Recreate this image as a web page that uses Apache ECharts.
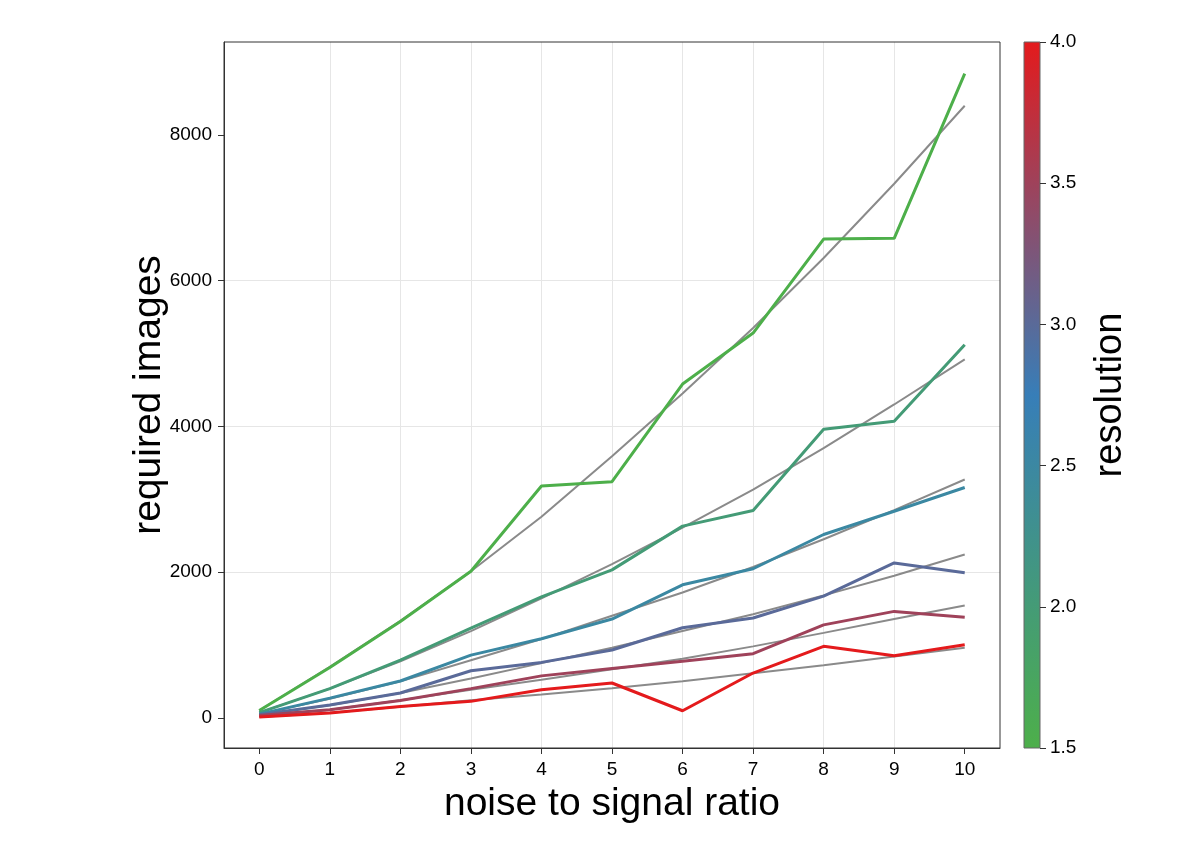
<!DOCTYPE html>
<html><head><meta charset="utf-8">
<script src="https://cdn.jsdelivr.net/npm/echarts@6/dist/echarts.min.js"></script>
<style>html,body{margin:0;padding:0;background:#fff}#c{width:1197px;height:855px}</style>
</head><body><div id="c"></div>
<script>
// ---- data ----
const noiseRatio = [0, 1, 2, 3, 4, 5, 6, 7, 8, 9, 10];
const resolutions = [1.5, 2.0, 2.5, 3.0, 3.5, 4.0];
const xTickValues = [0, 1, 2, 3, 4, 5, 6, 7, 8, 9, 10];
const yTickValues = [0, 2000, 4000, 6000, 8000];
const colorbarTicks = [1.5, 2.0, 2.5, 3.0, 3.5, 4.0];

// measured required images per resolution
const images_res15 = [100, 690, 1320, 2010, 3180, 3240, 4580, 5280, 6570, 6580, 8840];
const images_res20 = [70, 400, 790, 1230, 1660, 2030, 2630, 2845, 3960, 4070, 5120];
const images_res25 = [50, 270, 505, 860, 1085, 1355, 1825, 2045, 2515, 2835, 3160];
const images_res30 = [40, 175, 340, 645, 760, 930, 1235, 1370, 1670, 2125, 1990];
const images_res35 = [30, 110, 238, 400, 575, 675, 775, 880, 1275, 1460, 1380];
const images_res40 = [10, 64, 156, 225, 385, 477, 96, 614, 981, 852, 1003];

// fitted curves (gray)
const fit_res15 = [100, 700, 1330, 2010, 2760, 3590, 4450, 5350, 6310, 7330, 8400];
const fit_res20 = [70, 400, 775, 1190, 1640, 2110, 2610, 3130, 3700, 4300, 4920];
const fit_res25 = [50, 260, 500, 790, 1080, 1400, 1720, 2070, 2450, 2850, 3270];
const fit_res30 = [40, 170, 340, 540, 750, 960, 1190, 1420, 1680, 1950, 2240];
const fit_res35 = [30, 110, 240, 385, 522, 665, 810, 980, 1165, 1356, 1540];
const fit_res40 = [10, 70, 150, 240, 320, 405, 500, 610, 720, 840, 960];

const measured = [images_res15, images_res20, images_res25, images_res30, images_res35, images_res40];
const fits = [fit_res15, fit_res20, fit_res25, fit_res30, fit_res35, fit_res40];

// ---- colormap: green (1.5) -> blue (2.75) -> red (4.0) ----
const cmin = 1.5, cmax = 4.0;
const stops = [[0, [77, 175, 74]], [0.5, [55, 126, 184]], [1, [228, 26, 28]]];
function colorFor(v) {
  const t = Math.max(0, Math.min(1, (v - cmin) / (cmax - cmin)));
  let i = t <= 0.5 ? 0 : 1;
  const a = stops[i], b = stops[i + 1];
  const u = (t - a[0]) / (b[0] - a[0]);
  const c = a[1].map((x, k) => Math.round(x + u * (b[1][k] - x)));
  return 'rgb(' + c.join(',') + ')';
}

const FONT = 'Liberation Sans, Arial, Helvetica, sans-serif';
const pairs = arr => noiseRatio.map((x, i) => [x, arr[i]]);

const series = [];
fits.forEach((f, k) => series.push({
  type: 'line', name: 'fit ' + resolutions[k], data: pairs(f), symbol: 'none',
  lineStyle: { color: '#8a8a8a', width: 2 }, z: 2, xAxisIndex: 0, yAxisIndex: 0, silent: true
}));
measured.forEach((m, k) => series.push({
  type: 'line', name: 'res ' + resolutions[k], data: pairs(m), symbol: 'none',
  lineStyle: { color: colorFor(resolutions[k]), width: 3 }, z: 3, xAxisIndex: 0, yAxisIndex: 0
}));

const chart = echarts.init(document.getElementById('c'), null, { renderer: 'canvas' });
chart.setOption({
  animation: false,
  backgroundColor: '#fff',
  textStyle: { fontFamily: FONT },
  grid: [
    { left: 224, top: 42, width: 776, height: 706, show: true, z: 4, borderColor: '#333', borderWidth: 1, backgroundColor: 'transparent' },
    { left: 1024, top: 42, width: 16, height: 706, show: true, borderColor: '#666', borderWidth: 1,
      backgroundColor: new echarts.graphic.LinearGradient(0, 0, 0, 1, [
        { offset: 0, color: '#e41a1c' }, { offset: 0.5, color: '#377eb8' }, { offset: 1, color: '#4daf4a' }
      ]) }
  ],
  xAxis: [
    { type: 'value', gridIndex: 0, min: -0.5, max: 10.5, splitNumber: 11,
      name: 'noise to signal ratio', nameLocation: 'middle', nameGap: 37, nameMoveOverlap: false,
      nameTextStyle: { fontSize: 39, color: '#000', fontFamily: FONT },
      axisLine: { show: true, onZero: false, lineStyle: { color: '#333', width: 1 } },
      axisTick: { show: true, inside: false, length: 6, customValues: xTickValues, lineStyle: { color: '#333' } },
      axisLabel: { fontSize: 19, color: '#000', margin: 12, customValues: xTickValues, fontFamily: FONT },
      splitLine: { show: true, showMinLine: false, showMaxLine: false, lineStyle: { color: '#e6e6e6', width: 1 } } },
    { type: 'category', gridIndex: 1, data: ['c'], show: false }
  ],
  yAxis: [
    { type: 'value', gridIndex: 0, min: -415, max: 9275, splitNumber: 5,
      name: 'required images', nameLocation: 'middle', nameGap: 55, nameRotate: 90, nameMoveOverlap: false,
      nameTextStyle: { fontSize: 39, color: '#000', fontFamily: FONT },
      axisLine: { show: true, onZero: false, lineStyle: { color: '#333', width: 1 } },
      axisTick: { show: true, inside: false, length: 6, customValues: yTickValues, lineStyle: { color: '#333' } },
      axisLabel: { fontSize: 19, color: '#000', margin: 12, customValues: yTickValues, formatter: v => String(v), fontFamily: FONT },
      splitLine: { show: true, showMinLine: false, showMaxLine: false, lineStyle: { color: '#e6e6e6', width: 1 } } },
    { type: 'value', gridIndex: 1, position: 'right', min: cmin, max: cmax, splitNumber: 5,
      name: 'resolution', nameLocation: 'middle', nameGap: 52, nameRotate: 90, nameMoveOverlap: false,
      nameTextStyle: { fontSize: 38, color: '#000', fontFamily: FONT },
      axisLine: { show: false, onZero: false },
      axisTick: { show: true, inside: false, length: 6, customValues: colorbarTicks, lineStyle: { color: '#333' } },
      axisLabel: { fontSize: 19, color: '#000', margin: 10, customValues: colorbarTicks, formatter: v => v.toFixed(1), fontFamily: FONT },
      splitLine: { show: false } }
  ],
  series: series
});
</script></body></html>
